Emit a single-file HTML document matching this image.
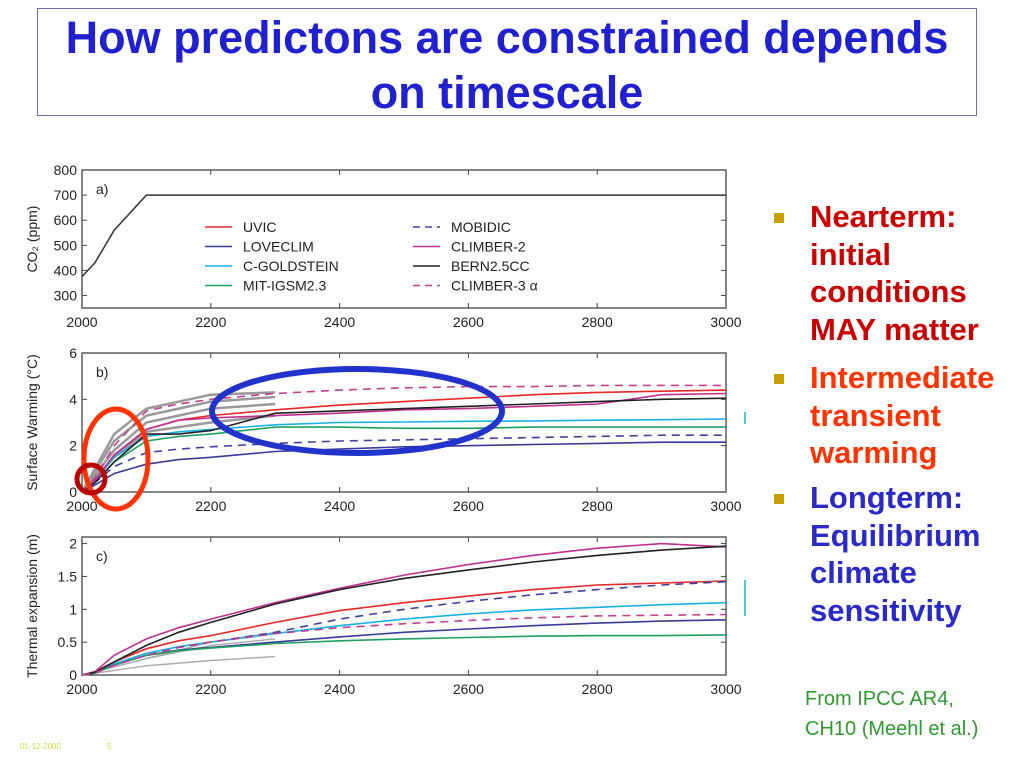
<!DOCTYPE html>
<html><head><meta charset="utf-8"><style>
body{margin:0;width:1024px;height:768px;background:#fff;position:relative;overflow:hidden;font-family:"Liberation Sans",sans-serif}
#title{position:absolute;left:37px;top:8px;width:940px;height:108px;border:1px solid #6a6ab0;box-sizing:border-box;text-align:center;color:#2020d0;font-weight:bold;font-size:45px;line-height:55px;padding-top:1px;white-space:nowrap}
.b{position:absolute;left:810px;font-weight:bold;font-size:31px;line-height:37.5px;white-space:nowrap}
.sq{position:absolute;left:774px;width:10px;height:10px;background:#c8a000}
#src{position:absolute;left:805px;top:684px;color:#2e9a2e;font-size:20px;line-height:30px}
.ft{position:absolute;top:742px;color:#ccdd44;font-size:8px}
</style></head><body>
<div id="title">How predictons are constrained depends<br>on timescale</div>
<svg id="chart" width="1024" height="768" style="position:absolute;left:0;top:0"></svg>
<div class="sq" style="top:213px"></div>
<div class="b" style="top:198px;color:#cc0000">Nearterm:<br>initial<br>conditions<br>MAY matter</div>
<div class="sq" style="top:374px"></div>
<div class="b" style="top:359px;color:#ff3300">Intermediate<br>transient<br>warming</div>
<div class="sq" style="top:494px"></div>
<div class="b" style="top:479px;color:#2a2ac8">Longterm:<br>Equilibrium<br>climate<br>sensitivity</div>
<div id="src">From IPCC AR4,<br>CH10 (Meehl et al.)</div>
<div class="ft" style="left:20px">01-12-2000</div>
<div class="ft" style="left:107px">5</div>
<script>
const years=[2000,2020,2050,2100,2150,2200,2300,2400,2500,2600,2700,2800,2900,3000];
const co2Years=[2000,2020,2050,2100,3000];
const co2Vals=[375,430,560,700,700];
const models=["UVIC","LOVECLIM","C-GOLDSTEIN","MIT-IGSM2.3","MOBIDIC","CLIMBER-2","BERN2.5CC","CLIMBER-3 \u03b1"];
const colors=["#e82828","#3a3a9a","#1ab0e8","#20a060","#4040a0","#c03090","#222222","#c04090"];
const dashed=[false,false,false,false,true,false,false,true];
const warmB=[
[0,0.5,1.6,2.7,3.1,3.3,3.55,3.75,3.9,4.05,4.2,4.3,4.35,4.4],
[0,0.3,0.8,1.2,1.4,1.5,1.75,1.85,1.95,2.0,2.05,2.1,2.15,2.15],
[0,0.5,1.5,2.4,2.6,2.7,2.9,3.0,3.02,3.05,3.07,3.1,3.12,3.15],
[0,0.4,1.3,2.2,2.4,2.5,2.8,2.8,2.75,2.75,2.8,2.8,2.8,2.8],
[0,0.4,1.1,1.7,1.85,1.95,2.1,2.2,2.25,2.3,2.35,2.4,2.45,2.45],
[0,0.5,1.6,2.7,3.1,3.2,3.3,3.4,3.55,3.6,3.7,3.8,4.2,4.25],
[0,0.4,1.3,2.5,2.5,2.65,3.4,3.5,3.6,3.7,3.8,3.9,4.0,4.05],
[0,0.6,2.0,3.5,3.8,4.0,4.25,4.4,4.5,4.55,4.55,4.6,4.6,4.6]];
const thermC=[
[0,0.05,0.2,0.4,0.52,0.6,0.8,0.98,1.1,1.2,1.3,1.37,1.4,1.43],
[0,0.03,0.15,0.3,0.38,0.42,0.5,0.58,0.65,0.7,0.75,0.79,0.82,0.84],
[0,0.04,0.17,0.33,0.43,0.5,0.63,0.75,0.85,0.93,0.99,1.03,1.07,1.1],
[0,0.03,0.15,0.3,0.37,0.41,0.48,0.52,0.55,0.57,0.59,0.6,0.6,0.61],
[0,0.03,0.15,0.3,0.42,0.5,0.65,0.85,1.0,1.12,1.22,1.3,1.37,1.42],
[0,0.05,0.3,0.55,0.72,0.85,1.1,1.32,1.52,1.68,1.82,1.93,2.0,1.95],
[0,0.04,0.2,0.45,0.65,0.8,1.08,1.3,1.47,1.6,1.72,1.82,1.9,1.96],
[0,0.03,0.15,0.3,0.42,0.5,0.63,0.72,0.78,0.83,0.87,0.9,0.91,0.92]];
const grayYearsB=[2000,2050,2100,2200,2300];
const grayB=[[0,2.2,3.3,3.9,4.1],[0,1.8,3.0,3.6,3.8],[0,1.5,2.6,3.0,3.3],[0,2.5,3.6,4.2,4.3]];
const grayYearsC=[2000,2100,2200,2300];
const grayC=[[0,0.14,0.22,0.28],[0,0.25,0.45,0.55],[0,0.25,0.5,0.65]];
const xTicks=[2000,2200,2400,2600,2800,3000];
const aTicks=[300,400,500,600,700,800];
const bTicks=[0,2,4,6];
const cTicks=[0,0.5,1,1.5,2];

const svg=document.getElementById('chart');
const NS='http://www.w3.org/2000/svg';
function mk(t,a,txt){const e=document.createElementNS(NS,t);for(const k in a)e.setAttribute(k,a[k]);if(txt!==undefined)e.textContent=txt;svg.appendChild(e);return e;}
const X0=82,X1=726;
const xs=v=>X0+(v-2000)/1000*(X1-X0);
const panels=[
 {top:170,bot:308,min:250,max:800,ticks:aTicks,lab:"a)",title:"CO\u2082 (ppm)",name:"panel-a"},
 {top:353,bot:492,min:0,max:6,ticks:bTicks,lab:"b)",title:"Surface Warming (\u00b0C)",name:"panel-b"},
 {top:537,bot:675,min:0,max:2.1,ticks:cTicks,lab:"c)",title:"Thermal expansion (m)",name:"panel-c"}];
panels.forEach(p=>{p.ys=v=>p.bot-(v-p.min)/(p.max-p.min)*(p.bot-p.top);
 let e=mk('rect',{x:X0,y:p.top,width:X1-X0,height:p.bot-p.top,fill:'none',stroke:'#444','stroke-width':1.3});
 
 xTicks.forEach(t=>{const x=xs(t);mk('line',{x1:x,x2:x,y1:p.bot,y2:p.bot-5,stroke:'#444'});mk('line',{x1:x,x2:x,y1:p.top,y2:p.top+5,stroke:'#444'});
  e=mk('text',{x:x,y:p.bot+19,'text-anchor':'middle','font-size':14,fill:'#222'},t);
  });
 p.ticks.forEach(t=>{const y=p.ys(t);mk('line',{x1:X0,x2:X0+5,y1:y,y2:y,stroke:'#444'});mk('line',{x1:X1,x2:X1-5,y1:y,y2:y,stroke:'#444'});
  e=mk('text',{x:X0-5,y:y+5,'text-anchor':'end','font-size':14,fill:'#222'},t);
  });
 e=mk('text',{x:X0+14,y:p.top+24,'font-size':14,fill:'#222'},p.lab);
 
 const cy=(p.top+p.bot)/2;
 e=mk('text',{x:0,y:0,'font-size':14,fill:'#222','text-anchor':'middle',transform:`translate(37,${cy}) rotate(-90)`},p.title);
 
});
function line(xv,yv,p,col,dash,w,name){const d=xv.map((x,i)=>(i?'L':'M')+xs(x).toFixed(1)+','+p.ys(yv[i]).toFixed(1)).join('');
 const e=mk('path',{d:d,fill:'none',stroke:col,'stroke-width':w||1.4,'stroke-dasharray':dash?'8,6':'none'});
 }
line(co2Years,co2Vals,panels[0],'#333',false,1.5,'co2-line');
grayB.forEach(s=>line(grayYearsB,s,panels[1],'#999',false,2.5,'gray-ensemble-line'));
grayC.forEach(s=>line(grayYearsC,s,panels[2],'#aaa',false,1.4,'gray-ensemble-line'));
warmB.forEach((s,i)=>line(years,s,panels[1],colors[i],dashed[i],1.6,'warming-'+models[i].toLowerCase().replace(/[^a-z0-9]+/g,'-')));
thermC.forEach((s,i)=>line(years,s,panels[2],colors[i],dashed[i],1.6,'thermal-'+models[i].toLowerCase().replace(/[^a-z0-9]+/g,'-')));
models.forEach((m,i)=>{const col=i<4?0:1,row=i%4;const lx=col?413:205,y=227+row*19.5;
 let e=mk('line',{x1:lx,x2:lx+27,y1:y,y2:y,stroke:colors[i],'stroke-width':1.4,'stroke-dasharray':dashed[i]?'7,5':'none'});
 
 e=mk('text',{x:lx+38,y:y+5,'font-size':14,fill:'#222'},m);
 });
let e=mk('ellipse',{cx:357,cy:411,rx:145,ry:42,fill:'none',stroke:'#2233cc','stroke-width':6});

e=mk('ellipse',{cx:116,cy:459,rx:32,ry:50,fill:'none',stroke:'#ff3300','stroke-width':5});

e=mk('circle',{cx:91,cy:479,r:14,fill:'none',stroke:'#bb0000','stroke-width':5});

mk('line',{x1:745,x2:745,y1:412,y2:424,stroke:'#1ab0e8','stroke-width':1.5});
mk('line',{x1:745,x2:745,y1:580,y2:616,stroke:'#1ab0e8','stroke-width':1.5});
</script>
</body></html>
